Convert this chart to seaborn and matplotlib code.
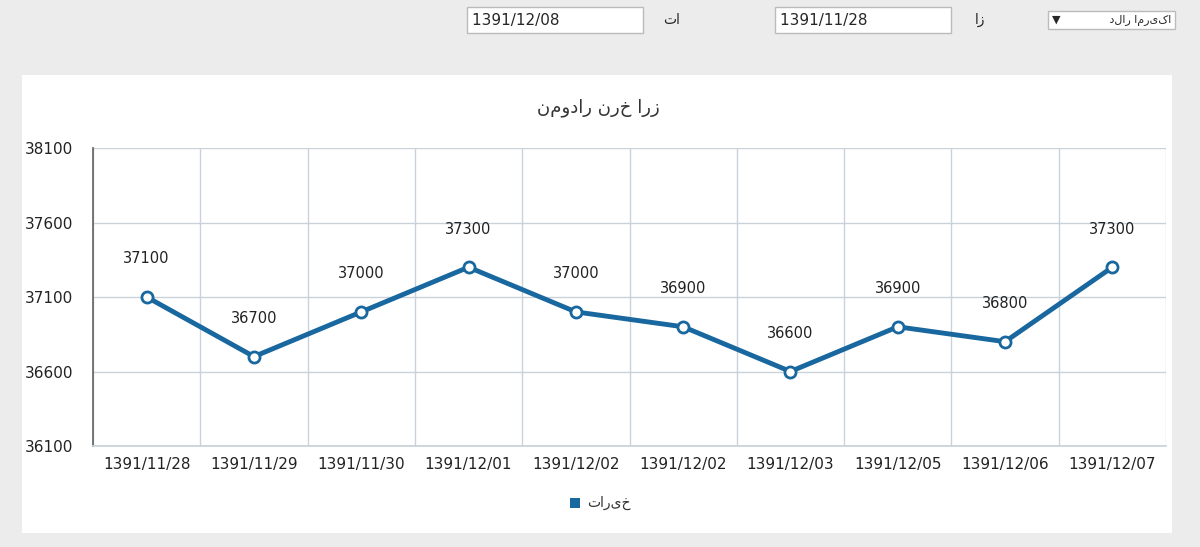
import numpy as np
import pandas as pd
import seaborn as sns
import matplotlib.pyplot as plt
from matplotlib.patches import Rectangle

dates = ["1391/11/28", "1391/11/29", "1391/11/30", "1391/12/01", "1391/12/02",
         "1391/12/02", "1391/12/03", "1391/12/05", "1391/12/06", "1391/12/07"]
rates = [37100, 36700, 37000, 37300, 37000, 36900, 36600, 36900, 36800, 37300]
y_ticks = [36100, 36600, 37100, 37600, 38100]

title = "نمودار نرخ ارز"
legend_label = "تاریخ"
date_from = "1391/11/28"
date_to = "1391/12/08"
currency = "دلار امریکا"

BLUE = "#19679f"
GRID = "#c9d2da"

sns.set_theme(style="white")
plt.rcParams['font.family'] = ['DejaVu Sans']

fig = plt.figure(figsize=(12, 5.47), dpi=100)
fig.patch.set_facecolor("#ececec")

# white chart panel, kept behind the axes
fig.patches.append(Rectangle((22 / 1200, 1 - 533 / 547), 1150 / 1200, 458 / 547,
                             transform=fig.transFigure, facecolor="white",
                             edgecolor="none", zorder=-5))

ax = fig.add_axes([93 / 1200, 1 - 446 / 547, 1073 / 1200, 298 / 547])
ax.set_zorder(2)
ax.set_facecolor("white")
df = pd.DataFrame({"x": np.arange(len(dates)), "rate": rates})
sns.lineplot(data=df, x="x", y="rate", ax=ax, color=BLUE, linewidth=3.5,
             marker="o", markersize=8, markerfacecolor="white",
             markeredgecolor=BLUE, markeredgewidth=2, zorder=3)
for i, v in enumerate(rates):
    ax.annotate(str(v), (i, v), xytext=(0, 22), textcoords="offset points",
                ha="center", va="bottom", fontsize=10.5, color="#222222")

ax.set_xlim(-0.5, len(dates) - 0.5)
ax.set_ylim(y_ticks[0], y_ticks[-1])
ax.set_yticks(y_ticks)
ax.set_xticks(np.arange(len(dates)))
ax.set_xticklabels(dates)
ax.set_xticks(np.arange(len(dates) + 1) - 0.5, minor=True)
ax.grid(False)
ax.yaxis.grid(True, color=GRID, linewidth=1)
ax.xaxis.grid(True, which="minor", color=GRID, linewidth=1)
ax.tick_params(axis="both", which="major", labelsize=11, colors="#222222",
               length=0, pad=8)
ax.tick_params(axis="x", which="minor", length=0)
ax.tick_params(axis="y", length=6, color="#777777", direction="out")
ax.set_xlabel("")
ax.set_ylabel("")
for side in ["top", "right"]:
    ax.spines[side].set_visible(False)
ax.spines["left"].set_color("#666666")
ax.spines["bottom"].set_color(GRID)

fig.text(598 / 1200, 1 - 108 / 547, title, ha="center", va="center",
         fontsize=13, color="#333333")

# legend
fig.patches.append(Rectangle((570 / 1200, 1 - 508 / 547), 10 / 1200, 10 / 547,
                             transform=fig.transFigure, facecolor=BLUE,
                             edgecolor="none"))
fig.text(587 / 1200, 1 - 503 / 547, legend_label, ha="left", va="center",
         fontsize=10, color="#333333")

# header controls
box = dict(boxstyle="square,pad=0.35", facecolor="white", edgecolor="#bbbbbb")
fig.text(472 / 1200, 1 - 20 / 547, date_to + " " * 16, ha="left", va="center",
         fontsize=11, bbox=box)
fig.text(672 / 1200, 1 - 20 / 547, "تا", ha="center", va="center", fontsize=10)
fig.text(780 / 1200, 1 - 20 / 547, date_from + " " * 16, ha="left", va="center",
         fontsize=11, bbox=box)
fig.text(980 / 1200, 1 - 20 / 547, "از", ha="center", va="center", fontsize=10)
fig.text(1052 / 1200, 1 - 20 / 547, "▼" + " " * 14 + currency, ha="left",
         va="center", fontsize=8, bbox=box)

fig.savefig("out.png", dpi=100, facecolor=fig.get_facecolor())
